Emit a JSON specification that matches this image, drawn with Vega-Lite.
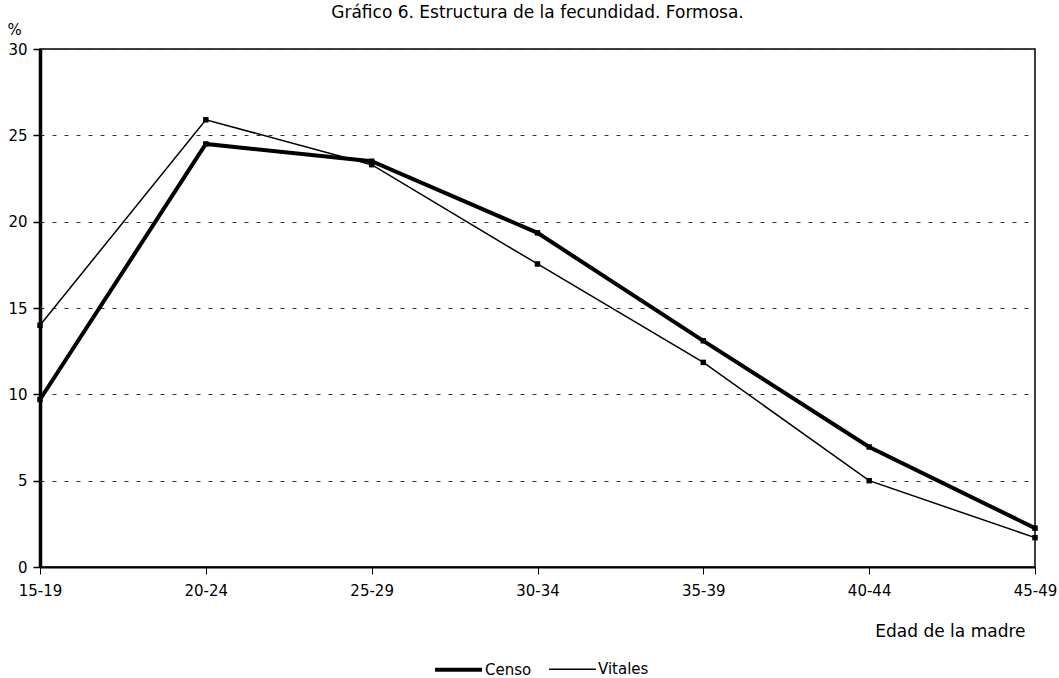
{
  "$schema": "https://vega.github.io/schema/vega-lite/v6.json",
  "width": 995,
  "height": 518,
  "autosize": {"type": "none"},
  "padding": {"left": 40, "top": 49, "right": 24, "bottom": 111},
  "background": "white",
  "config": {
    "font": "DejaVu Sans",
    "view": {"stroke": "black", "strokeWidth": 1.5},
    "axis": {"labelColor": "black", "titleColor": "black", "labelFont": "DejaVu Sans", "titleFont": "DejaVu Sans"},
    "legend": {"labelFont": "DejaVu Sans"}
  },
  "title": {
    "text": "Gráfico 6. Estructura de la fecundidad. Formosa.",
    "font": "DejaVu Sans",
    "fontSize": 17,
    "fontWeight": "normal",
    "color": "black",
    "anchor": "middle",
    "baseline": "bottom",
    "offset": 4,
    "dy": 21
  },
  "data": {
    "values": [
      {"edad": "15-19", "serie": "Censo", "valor": 9.7},
      {"edad": "20-24", "serie": "Censo", "valor": 24.5},
      {"edad": "25-29", "serie": "Censo", "valor": 23.5},
      {"edad": "30-34", "serie": "Censo", "valor": 19.35},
      {"edad": "35-39", "serie": "Censo", "valor": 13.1},
      {"edad": "40-44", "serie": "Censo", "valor": 6.95},
      {"edad": "45-49", "serie": "Censo", "valor": 2.25},
      {"edad": "15-19", "serie": "Vitales", "valor": 14.0},
      {"edad": "20-24", "serie": "Vitales", "valor": 25.9},
      {"edad": "25-29", "serie": "Vitales", "valor": 23.3},
      {"edad": "30-34", "serie": "Vitales", "valor": 17.55},
      {"edad": "35-39", "serie": "Vitales", "valor": 11.85},
      {"edad": "40-44", "serie": "Vitales", "valor": 5.0},
      {"edad": "45-49", "serie": "Vitales", "valor": 1.7}
    ]
  },
  "encoding": {
    "x": {
      "field": "edad",
      "type": "ordinal",
      "scale": {"type": "point", "padding": 0},
      "axis": {
        "title": "Edad de la madre",
        "labelAngle": 0,
        "labelFontSize": 15,
        "labelPadding": 9,
        "tickSize": 7,
        "tickColor": "black",
        "domainColor": "black",
        "domainWidth": 2,
        "grid": false,
        "titleFontSize": 17,
        "titleFontWeight": "normal",
        "titleAnchor": "end",
        "titleAlign": "right",
        "titleX": 985,
        "titleY": 64,
        "titleBaseline": "middle"
      }
    },
    "y": {
      "field": "valor",
      "type": "quantitative",
      "scale": {"domain": [0, 30], "nice": false},
      "axis": {
        "title": "%",
        "titleAngle": 0,
        "titleFontSize": 15,
        "titleFontWeight": "normal",
        "titleX": -26,
        "titleY": -12,
        "titleAlign": "center",
        "titleBaseline": "bottom",
        "values": [0, 5, 10, 15, 20, 25, 30],
        "labelFontSize": 15,
        "labelPadding": 6,
        "tickSize": 7,
        "tickColor": "black",
        "tickWidth": 1.5,
        "domainColor": "black",
        "domainWidth": 3.5,
        "grid": true,
        "gridColor": "#333",
        "gridDash": [4, 8],
        "gridWidth": 1
      }
    }
  },
  "layer": [
    {
      "mark": {"type": "line", "color": "black"},
      "encoding": {
        "detail": {"field": "serie"},
        "strokeWidth": {
          "field": "serie",
          "type": "ordinal",
          "scale": {"domain": ["Censo", "Vitales"], "range": [4, 1.5]},
          "legend": {
            "title": null,
            "orient": "none",
            "legendX": 393,
            "legendY": 595,
            "direction": "horizontal",
            "symbolType": "stroke",
            "symbolSize": 2200,
            "symbolStrokeColor": "black",
            "labelFontSize": 15,
            "labelColor": "black",
            "labelOffset": 1,
            "columnPadding": 14
          }
        }
      }
    },
    {
      "mark": {"type": "point", "shape": "square", "filled": true, "color": "black", "opacity": 1, "size": 30},
      "encoding": {}
    }
  ]
}
